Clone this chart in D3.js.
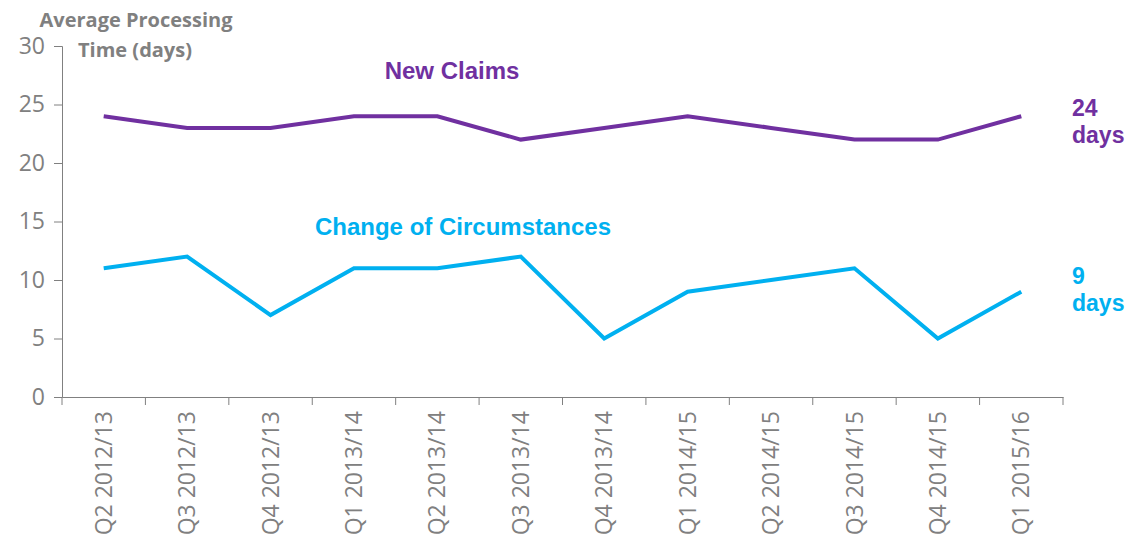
<!DOCTYPE html>
<html>
<head>
<meta charset="utf-8">
<script src="https://cdn.jsdelivr.net/npm/d3@7"></script>
<style>
  body { margin: 0; background: #fff; }
  svg text { font-family: "Open Sans", "Liberation Sans", sans-serif; }
</style>
</head>
<body>
<svg width="1126" height="543"></svg>
<script>
let quarters = ["Q2 2012/13","Q3 2012/13","Q4 2012/13","Q1 2013/14","Q2 2013/14","Q3 2013/14",
  "Q4 2013/14","Q1 2014/15","Q2 2014/15","Q3 2014/15","Q4 2014/15","Q1 2015/16"];
let newClaims = [24,23,23,24,24,22,23,24,23,22,22,24];
let changeCirc = [11,12,7,11,11,12,5,9,10,11,5,9];
let yTicks = [0,5,10,15,20,25,30];

let svg = d3.select("svg");
let grey = "#808080";
let purple = "#7030A0";
let blue = "#00B0F0";

let x = d3.scaleBand().domain(quarters).range([62, 1063]);
let y = d3.scaleLinear().domain([0, 30]).range([397, 46]);

// y axis
let yAxis = svg.append("g")
  .attr("transform", "translate(62,0)")
  .call(d3.axisLeft(y).tickValues(yTicks).tickSize(8).tickPadding(9));
yAxis.selectAll("text").attr("fill", grey).style("font-size", "23px");

// x axis, ticks on the band edges
let xAxis = svg.append("g")
  .attr("transform", "translate(0,397)")
  .call(d3.axisBottom(x).tickSize(0).tickPadding(0));
xAxis.selectAll("text")
  .attr("fill", grey)
  .style("font-size", "23px")
  .attr("text-anchor", "end")
  .attr("transform", "rotate(-90)")
  .attr("x", -14)
  .attr("y", 0)
  .attr("dy", "0.35em");
xAxis.selectAll(".tick line").remove();
svg.append("g").selectAll("line")
  .data(quarters.concat(["end"]))
  .enter()
  .append("line")
  .attr("x1", (d, i) => 62 + i * x.bandwidth())
  .attr("x2", (d, i) => 62 + i * x.bandwidth())
  .attr("y1", 397)
  .attr("y2", 405)
  .attr("stroke", grey);

svg.selectAll(".domain").attr("stroke", grey);
svg.selectAll(".tick line").attr("stroke", grey);

let line = d3.line()
  .x((d, i) => x(quarters[i]) + x.bandwidth() / 2)
  .y(d => y(d));

svg.append("path")
  .attr("d", line(newClaims))
  .attr("fill", "none")
  .attr("stroke", purple)
  .attr("stroke-width", 4);

svg.append("path")
  .attr("d", line(changeCirc))
  .attr("fill", "none")
  .attr("stroke", blue)
  .attr("stroke-width", 4);

// titles and labels
svg.append("text")
  .attr("x", 136).attr("y", 27)
  .attr("text-anchor", "middle")
  .attr("fill", grey)
  .style("font-size", "20px").style("font-weight", "bold")
  .text("Average Processing");
svg.append("text")
  .attr("x", 135).attr("y", 57)
  .attr("text-anchor", "middle")
  .attr("fill", grey)
  .style("font-size", "20px").style("font-weight", "bold")
  .text("Time (days)");

svg.append("text")
  .attr("x", 452).attr("y", 79)
  .attr("text-anchor", "middle")
  .attr("fill", purple)
  .style("font-family", "Liberation Sans, Arial, sans-serif")
  .style("font-size", "24px").style("font-weight", "bold")
  .text("New Claims");

svg.append("text")
  .attr("x", 463).attr("y", 235)
  .attr("text-anchor", "middle")
  .attr("fill", blue)
  .style("font-family", "Liberation Sans, Arial, sans-serif")
  .style("font-size", "24px").style("font-weight", "bold")
  .text("Change of Circumstances");

let endLabels = [
  {lines: [newClaims[newClaims.length - 1], "days"], color: purple, y: 116},
  {lines: [changeCirc[changeCirc.length - 1], "days"], color: blue, y: 284}
];
endLabels.forEach(l => {
  l.lines.forEach((t, i) => {
    svg.append("text")
      .attr("x", 1072).attr("y", l.y + i * 27)
      .attr("fill", l.color)
      .style("font-family", "Liberation Sans, Arial, sans-serif")
      .style("font-size", "23px").style("font-weight", "bold")
      .text(t);
  });
});
</script>
</body>
</html>
